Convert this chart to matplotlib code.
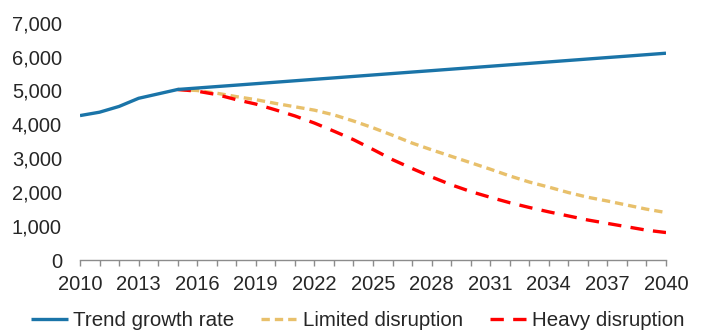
import matplotlib
matplotlib.use("Agg")
import matplotlib.pyplot as plt
from matplotlib.ticker import FuncFormatter, MultipleLocator

plt.rcParams['font.family'] = ['Liberation Sans', 'DejaVu Sans']

years_hist = [2010, 2011, 2012, 2013, 2014, 2015]
trend_hist = [4260, 4360, 4530, 4770, 4900, 5030]

years_proj = list(range(2015, 2041))
trend_proj = [5030, 5073, 5116, 5158, 5201, 5244, 5287, 5330, 5372, 5415,
              5458, 5501, 5544, 5586, 5629, 5672, 5715, 5758, 5800, 5843,
              5886, 5929, 5972, 6014, 6057, 6100]
limited = [5030, 5000, 4920, 4820, 4730, 4620, 4520, 4420, 4280, 4100,
           3900, 3680, 3450, 3250, 3060, 2870, 2680, 2480, 2300, 2150,
           1990, 1850, 1740, 1620, 1500, 1400]
heavy = [5030, 4980, 4880, 4730, 4600, 4430, 4250, 4040, 3800, 3550,
         3260, 2960, 2700, 2450, 2220, 2020, 1850, 1690, 1550, 1420,
         1300, 1180, 1080, 980, 880, 810]

label_years = list(range(2010, 2041, 3))

blue = '#1a74a8'
gold = '#e8c06b'
red = '#ff0000'
text_col = '#262626'

fig = plt.figure(figsize=(7.07, 3.33), dpi=100)
ax = fig.add_axes([80/707, 73/333, 586/707, 237.3/333])

ax.plot(years_hist + years_proj[1:], trend_hist + trend_proj[1:],
        color=blue, lw=2.4, solid_capstyle='butt', label='Trend growth rate', zorder=3)
ax.plot(years_proj, limited, color=gold, lw=2.4, dashes=(2.5, 1.5),
        label='Limited disruption', zorder=2)
ax.plot(years_proj, heavy, color=red, lw=2.4, dashes=(4.0, 2.8),
        label='Heavy disruption', zorder=2)

ax.set_xlim(2010, 2040)
ax.set_ylim(0, 7000)
ax.yaxis.set_major_locator(MultipleLocator(1000))
ax.yaxis.set_major_formatter(FuncFormatter(lambda v, p: f'{int(v):,}'))
ax.set_xticks(label_years)
ax.set_xticks(range(2010, 2041), minor=True)

for s in ['top', 'right', 'left']:
    ax.spines[s].set_visible(False)
ax.spines['bottom'].set_color('#8c8c8c')
ax.spines['bottom'].set_linewidth(1.0)

ax.tick_params(axis='y', length=0, pad=13, labelsize=14.5, labelcolor=text_col)
ax.tick_params(axis='x', which='both', direction='out', length=4.5, width=1.0,
               color='#8c8c8c', labelsize=14.5, labelcolor=text_col, pad=6.5)

leg = fig.legend(loc='center left', bbox_to_anchor=(31/707, 1 - 321/333), ncol=3,
                 frameon=False, fontsize=14.8, handlelength=1.8,
                 handletextpad=0.25, columnspacing=1.3, borderaxespad=0.0,
                 borderpad=0.0)
for t in leg.get_texts():
    t.set_color(text_col)

fig.savefig('out.png', dpi=100)
